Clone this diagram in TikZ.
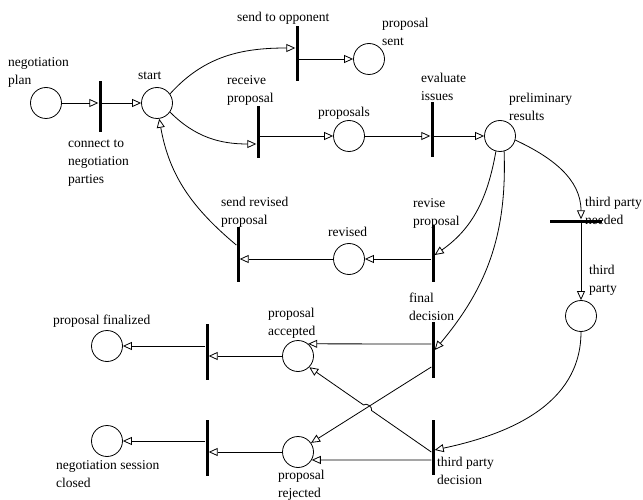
\documentclass[tikz,border=0pt]{standalone}
\usepackage{fontspec}
\setmainfont{Liberation Serif}
\usetikzlibrary{arrows.meta, calc}

\begin{document}
\begin{tikzpicture}[x=1pt, y=-1pt,
			place/.style={circle, draw, line width=0.8pt, minimum size=31pt, inner sep=0pt},
			trans/.style={rectangle, fill=black, inner sep=0pt, minimum width=3pt, minimum height=55pt},
			flow/.style={-{Triangle[open, length=9pt, width=8pt, line width=0.8pt]}, line width=0.8pt},
			lbl/.style={anchor=north west, inner sep=0pt, align=left, font=\fontsize{13.5}{18}\selectfont}
			]
			\useasboundingbox (0,0) rectangle (643,500);
			
			% Places
			\node[place] (plan) at (46, 103) {};
			\node[place] (start) at (157, 103) {};
			\node[place] (sent) at (369, 59) {};
			\node[place] (props) at (349, 136) {};
			\node[place] (prelim) at (500, 136) {};
			\node[place] (revised) at (349, 259) {};
			\node[place] (third) at (581, 316) {};
			\node[place] (acc) at (298, 356) {};
			\node[place] (rej) at (298, 452) {};
			\node[place] (fin) at (107, 346) {};
			\node[place] (closed) at (107, 441) {};
			
			% Transitions
			\node[trans, minimum height=51pt] (tconn) at (100, 107) {};
			\node[trans] (tsend) at (297, 54) {};
			\node[trans, minimum height=52pt] (trecv) at (258, 132) {};
			\node[trans] (teval) at (432, 130) {};
			\node[trans, minimum height=57pt] (trevise) at (433, 253) {};
			\node[trans] (tsendrev) at (238, 254) {};
			\node[trans, minimum width=52pt, minimum height=3pt] (tneed) at (576, 221) {};
			\node[trans, minimum height=56pt] (tfinal) at (433, 350) {};
			\node[trans] (tdecide) at (433, 447) {};
			\node[trans, minimum height=56pt] (tfinish) at (207, 352) {};
			\node[trans, minimum height=56pt] (tclose) at (207, 448) {};
			
			% Labels
			\node[lbl] (lplan) at (8, 57) {negotiation\\plan};
			\node[lbl] (lstart) at (138, 72) {start};
			\node[lbl] (lconn) at (68, 140) {connect to\\negotiation\\parties};
			\node[lbl] (lsend) at (237, 12) {send to opponent};
			\node[lbl] (lsent) at (382, 18) {proposal\\sent};
			\node[lbl] (lrecv) at (227, 75) {receive\\proposal};
			\node[lbl] (lprops) at (318, 107) {proposals};
			\node[lbl] (leval) at (421, 73) {evaluate\\issues};
			\node[lbl] (lprelim) at (509, 93) {preliminary\\results};
			\node[lbl] (lneed) at (585, 197) {third party\\needed};
			\node[lbl] (lthird) at (589, 265) {third\\party};
			\node[lbl] (lsendrev) at (221, 197) {send revised\\proposal};
			\node[lbl] (lrevise) at (413, 198) {revise\\proposal};
			\node[lbl] (lrevised) at (328, 227) {revised};
			\node[lbl] (lfinal) at (409, 293) {final\\decision};
			\node[lbl] (lacc) at (268, 308) {proposal\\accepted};
			\node[lbl] (lfin) at (53, 315) {proposal finalized};
			\node[lbl] (lclosed) at (56, 460) {negotiation session\\closed};
			\node[lbl] (lrej) at (278, 470) {proposal\\rejected};
			\node[lbl] (ldecide) at (437, 457) {third party\\decision};
			
			% Arcs: opening
			\draw[flow] (plan.east) -- (plan.east -| tconn.west);
			\draw[flow] (tconn.east |- start) -- (start.west);
			\draw[flow] (start.35) to[out=48, in=180] ([yshift=6pt]tsend.west);
			\draw[flow] (tsend.east |- sent) -- (sent.west);
			\draw[flow] (start.-35) to[out=-45, in=180] ([yshift=-12pt]trecv.west);
			\draw[flow] (trecv.east |- props) -- (props.west);
			\draw[flow] (props.east) -- (props -| teval.west);
			\draw[flow] (teval.east |- prelim) -- (prelim.west);
			
			% Arcs: third party
			\draw[flow] (prelim.-15) to[out=-25, in=90] (tneed.north -| third);
			\draw[flow] (tneed.south -| third) -- (third.north);
			\draw[flow] (third.south) to[out=-90, in=12] ([yshift=-3pt]tdecide.east);
			
			% Arcs: revision loop
			\draw[flow] (prelim.-105) to[out=-100, in=35] ([yshift=-2pt]trevise.east);
			\draw[flow] (trevise.west |- revised) -- (revised.east);
			\draw[flow] (revised.west) -- (revised -| tsendrev.east);
			\draw[flow] ([yshift=9pt]tsendrev.west) to[out=140, in=-80] (start.-82);
			
			% Arcs: decisions
			\draw[flow] (prelim.-75) to[out=-88, in=50] (tfinal.east);
			\draw[flow] ([yshift=6pt]tfinal.west) -- (acc.50);
			\draw[flow] ([yshift=-17pt]tfinal.west) -- (rej.35);
			\draw[flow] ([yshift=-13pt]tdecide.west) -- (rej.-30);
			\coordinate (dout) at ([yshift=-5pt]tdecide.west);
			\coordinate (jumpa) at ($(dout)!0.49!(acc.-45)$);
			\coordinate (jumpb) at ($(dout)!0.555!(acc.-45)$);
			\draw[flow] (dout) -- (jumpa) to[bend right=80] (jumpb) -- (acc.-45);
			
			% Arcs: closing
			\draw[flow] (acc.west) -- (acc -| tfinish.east);
			\draw[flow] (tfinish.west |- fin) -- (fin.east);
			\draw[flow] (rej.west) -- (rej -| tclose.east);
			\draw[flow] (tclose.west |- closed) -- (closed.east);
		\end{tikzpicture}
\end{document}
